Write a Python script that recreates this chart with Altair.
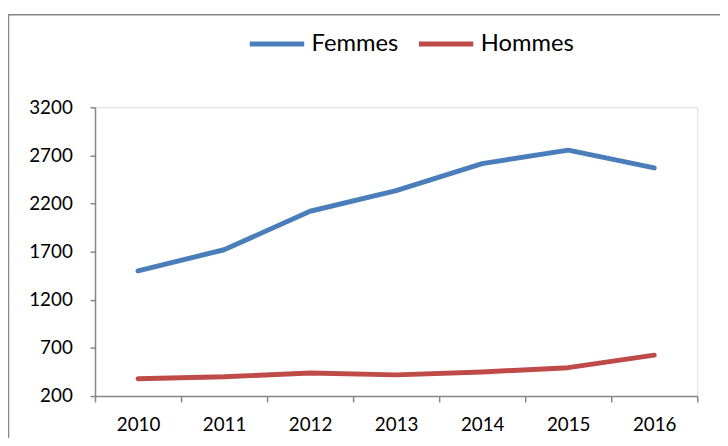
import altair as alt
import pandas as pd

years = ["2010", "2011", "2012", "2013", "2014", "2015", "2016"]
femmes = [1500, 1720, 2120, 2335, 2615, 2755, 2570]
hommes = [380, 400, 440, 420, 450, 495, 625]
series = ["Femmes", "Hommes"]
colors = ["#4A7EBB", "#BE4B48"]
y_ticks = [200, 700, 1200, 1700, 2200, 2700, 3200]

rows = []
for name, vals in zip(series, [femmes, hommes]):
    for yr, v in zip(years, vals):
        rows.append({"Année": yr, "Série": name, "Valeur": v})
df = pd.DataFrame(rows)

FONT = "Lato"
GRAY = "#868686"

lines = alt.Chart(df).mark_line(strokeWidth=5, strokeCap="round", strokeJoin="round").encode(
    x=alt.X("Année:N", sort=years, bandPosition=0.5,
            scale=alt.Scale(type="band", paddingInner=0, paddingOuter=0),
            axis=alt.Axis(title=None, labelAngle=0, tickBand="extent", tickSize=6,
                          labelPadding=14, labelFontSize=19, labelFont=FONT,
                          labelColor="#000000", domainColor=GRAY, tickColor=GRAY,
                          domainWidth=1.5, tickWidth=1.5, grid=False)),
    y=alt.Y("Valeur:Q", scale=alt.Scale(domain=[200, 3200], nice=False, zero=False),
            axis=alt.Axis(title=None, values=y_ticks, format="d", tickSize=5, labelPadding=18,
                          labelFontSize=19, labelFont=FONT, labelColor="#000000",
                          domainColor=GRAY, tickColor=GRAY, domainWidth=1.5,
                          tickWidth=1.5, grid=False)),
    color=alt.Color("Série:N", scale=alt.Scale(domain=series, range=colors),
                    legend=alt.Legend(title=None, orient="none", legendX=154, legendY=-94,
                                      direction="horizontal", symbolType="stroke",
                                      symbolSize=3025, symbolStrokeWidth=5,
                                      labelFontSize=24, labelFont=FONT, labelColor="#000000",
                                      labelOffset=5, columnPadding=10, padding=0)),
)

frame_df = pd.DataFrame({"k": [0]})
left_border = alt.Chart(frame_df).mark_rule(color=GRAY, strokeWidth=1.5).encode(
    x=alt.value(-87.5), y=alt.value(-94), y2=alt.value(400))
top_border = alt.Chart(frame_df).mark_rule(color=GRAY, strokeWidth=1.5).encode(
    x=alt.value(-88), x2=alt.value(700), y=alt.value(-93.5))

chart = alt.layer(lines, left_border, top_border).properties(
    width=609, height=292,
    autosize=alt.AutoSizeParams(type="none"),
    padding={"left": 88, "top": 98, "right": 23, "bottom": 40},
).configure_view(stroke=None).configure(background="white")

chart.save("out.html", embed_options={"renderer": "svg", "actions": False})
